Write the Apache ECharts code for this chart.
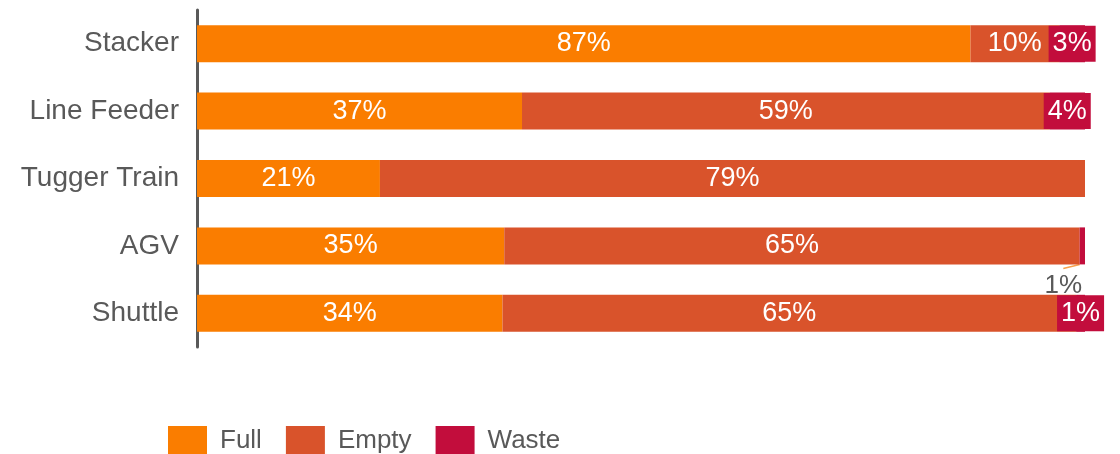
<!DOCTYPE html>
<html>
<head>
<meta charset="utf-8">
<script src="https://cdn.jsdelivr.net/npm/echarts@6/dist/echarts.min.js"></script>
<style>
  html, body { margin: 0; padding: 0; background: #fff; }
  #chart { width: 1120px; height: 454px; }
</style>
</head>
<body>
<div id="chart"></div>
<script>
const categories = ["Stacker", "Line Feeder", "Tugger Train", "AGV", "Shuttle"];
const fullValues = [87.1, 36.6, 20.6, 34.6, 34.4];
const emptyValues = [10.0, 59.4, 79.4, 64.8, 64.6];
const wasteValues = [2.9, 4.0, 0, 0.6, 1.0];

const FONT = "Liberation Sans, Arial, sans-serif";
const GREY = "#595959";

const pct = (p) => Math.round(p.value) + "%";

const chart = echarts.init(document.getElementById("chart"), null, { renderer: "canvas" });

const baseLabel = {
  show: true,
  position: "inside",
  color: "#fff",
  fontSize: 27,
  fontFamily: FONT,
  formatter: pct,
};

// waste: boxed labels, the tiny AGV slice gets its label pulled out below
const wasteData = wasteValues.map((v, i) => {
  if (v === 0) return { value: v, label: { show: false } };
  if (i === 3) {
    return {
      value: v,
      label: { color: GREY, backgroundColor: "transparent", fontSize: 26 },
      labelLine: { show: true, lineStyle: { color: "#F7A04B", width: 1.5 } },
    };
  }
  return v;
});

chart.setOption({
  animation: false,
  grid: { left: 197, right: 35, top: 10, bottom: 107 },
  xAxis: { type: "value", min: 0, max: 100, show: false },
  yAxis: {
    type: "category",
    data: categories,
    inverse: true,
    axisLine: { show: true, lineStyle: { color: GREY, width: 3 } },
    axisTick: { show: false },
    axisLabel: { color: GREY, fontSize: 28, fontFamily: FONT, margin: 18 },
  },
  legend: {
    left: 163,
    top: 421,
    icon: "rect",
    itemWidth: 39,
    itemHeight: 30,
    itemGap: 24,
    textStyle: { color: GREY, fontSize: 26, fontFamily: FONT, padding: [0, 0, 0, 8] },
    data: ["Full", "Empty", "Waste"],
  },
  series: [
    {
      name: "Full",
      type: "bar",
      stack: "all",
      barWidth: 37,
      itemStyle: { color: "#FA7D00" },
      label: baseLabel,
      data: fullValues,
    },
    {
      name: "Empty",
      type: "bar",
      stack: "all",
      barWidth: 37,
      itemStyle: { color: "#D9532B" },
      label: baseLabel,
      data: emptyValues,
    },
    {
      name: "Waste",
      type: "bar",
      stack: "all",
      barWidth: 37,
      itemStyle: { color: "#C20D3C" },
      label: Object.assign({}, baseLabel, {
        backgroundColor: "#C20D3C",
        padding: [5, 4, 4, 4],
      }),
      labelLayout: (params) => (params.dataIndex === 3 ? { dx: -19, dy: 40 } : {}),
      data: wasteData,
    },
  ],
});
</script>
</body>
</html>
